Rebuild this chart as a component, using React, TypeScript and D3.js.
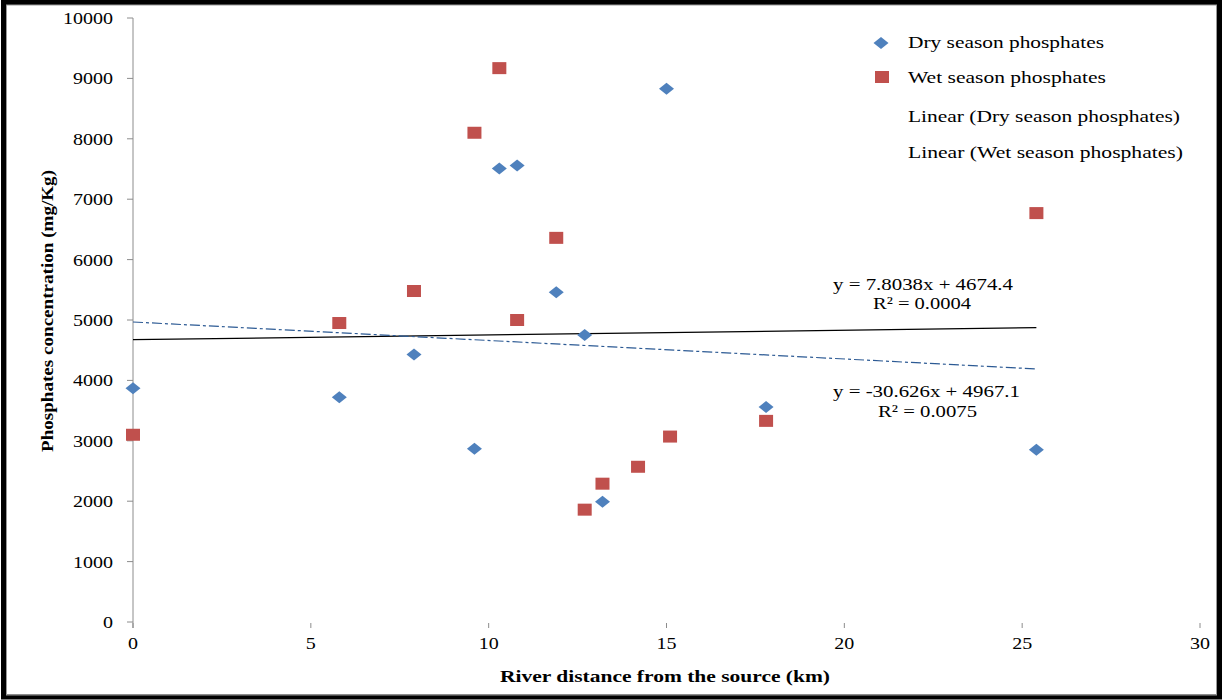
import React from "react";
import * as d3 from "d3";

const dryX = [0, 5.8, 7.9, 9.6, 10.3, 10.8, 11.9, 12.7, 13.2, 15.0, 17.8, 25.4];
const dryY = [3870, 3720, 4430, 2870, 7510, 7560, 5460, 4750, 1990, 8830, 3560, 2850];
const wetX = [0, 5.8, 7.9, 9.6, 10.3, 10.8, 11.9, 12.7, 13.2, 14.2, 15.1, 17.8, 25.4];
const wetY = [3100, 4950, 5480, 8100, 9170, 5000, 6360, 1860, 2290, 2570, 3070, 3330, 6770];
const xTicks = [0, 5, 10, 15, 20, 25, 30];
const yTicks = [0, 1000, 2000, 3000, 4000, 5000, 6000, 7000, 8000, 9000, 10000];
const dryFit = { slope: -30.626, intercept: 4967.1, r2: "0.0075" };
const wetFit = { slope: 7.8038, intercept: 4674.4, r2: "0.0004" };
const legendLabels = [
  "Dry season phosphates",
  "Wet season phosphates",
  "Linear (Dry season phosphates)",
  "Linear (Wet season phosphates)",
];
const legendWidths = [196, 198, 272, 275];

const W = 1225;
const H = 700;
const FONT = "'Liberation Serif', 'Times New Roman', serif";

export default function App() {
  const x = d3.scaleLinear().domain([0, 30]).range([133, 1200]);
  const y = d3.scaleLinear().domain([0, 10000]).range([622, 18]);
  const xMax = d3.max(dryX.concat(wetX)) as number;
  const fitPath = (f: { slope: number; intercept: number }) =>
    d3
      .line<[number, number]>()
      .x((d) => x(d[0]))
      .y((d) => y(d[1]))([
      [0, f.intercept],
      [xMax, f.intercept + f.slope * xMax],
    ]) as string;

  const diamond = (cx: number, cy: number) =>
    `M${cx},${cy - 6}L${cx + 7.5},${cy}L${cx},${cy + 6}L${cx - 7.5},${cy}Z`;

  const stretch = (w: number) => ({ textLength: w, lengthAdjust: "spacingAndGlyphs" as const });

  return (
    <svg
      width={W}
      height={H}
      style={{ position: "absolute", left: 0, top: 0, background: "#fff" }}
      fontFamily={FONT}
    >
      <rect x={0} y={0} width={W} height={H} fill="#fff" />
      {/* y axis */}
      <line x1={133} x2={133} y1={y(10000)} y2={628} stroke="#8c8c8c" strokeWidth={1} />
      {yTicks.map((t) => (
        <g key={"y" + t}>
          <line x1={127} x2={133} y1={y(t)} y2={y(t)} stroke="#8c8c8c" strokeWidth={1} />
          <text
            x={113 - String(t).length * 10}
            y={y(t) + 6}
            fontSize={17}
            fill="#000"
            {...stretch(String(t).length * 10)}
          >
            {t}
          </text>
        </g>
      ))}
      {xTicks.map((t) => (
        <g key={"x" + t}>
          <line x1={x(t)} x2={x(t)} y1={623} y2={628} stroke="#8c8c8c" strokeWidth={1} />
          <text
            x={x(t) - String(t).length * 5}
            y={649}
            fontSize={17}
            fill="#000"
            {...stretch(String(t).length * 10)}
          >
            {t}
          </text>
        </g>
      ))}
      {/* trendlines */}
      <path d={fitPath(wetFit)} stroke="#000" strokeWidth={1.2} fill="none" />
      <path
        d={fitPath(dryFit)}
        stroke="#2c5a94"
        strokeWidth={1.2}
        strokeDasharray="10,3,3,3"
        fill="none"
      />
      {/* points */}
      {dryX.map((d, i) => (
        <path key={"d" + i} d={diamond(x(d), y(dryY[i]))} fill="#4f81bd" />
      ))}
      {wetX.map((d, i) => (
        <rect
          key={"w" + i}
          x={x(d) - 7}
          y={y(wetY[i]) - 6}
          width={14}
          height={12}
          fill="#c0504d"
        />
      ))}
      {/* equations */}
      <text x={833} y={290} fontSize={17} fill="#000" {...stretch(180)}>
        {`y = ${wetFit.slope}x + ${wetFit.intercept}`}
      </text>
      <text x={873} y={309} fontSize={17} fill="#000" {...stretch(98)}>
        R² = {wetFit.r2}
      </text>
      <text x={833} y={397} fontSize={17} fill="#000" {...stretch(187)}>
        {`y = ${dryFit.slope}x + ${dryFit.intercept}`}
      </text>
      <text x={878} y={417} fontSize={17} fill="#000" {...stretch(99)}>
        R² = {dryFit.r2}
      </text>
      {/* legend */}
      <path d={diamond(881, 43)} fill="#4f81bd" />
      <rect x={875} y={71} width={14} height={12} fill="#c0504d" />
      {legendLabels.map((l, i) => (
        <text
          key={l}
          x={908}
          y={[48, 83, 122, 158][i]}
          fontSize={17}
          fill="#000"
          {...stretch(legendWidths[i])}
        >
          {l}
        </text>
      ))}
      {/* axis titles */}
      <text x={500} y={682} fontSize={17} fontWeight="bold" fill="#000" {...stretch(330)}>
        River distance from the source (km)
      </text>
      <text
        transform={`translate(53,${452}) rotate(-90)`}
        fontSize={17}
        fontWeight="bold"
        fill="#000"
        {...stretch(282)}
      >
        Phosphates concentration (mg/Kg)
      </text>
      {/* frame */}
      <rect x={3.5} y={2.5} width={W - 9} height={H - 5.5} fill="none" stroke="#000" strokeWidth={5} />
      <rect x={6.5} y={5} width={W - 15} height={H - 10} fill="none" stroke="#999" strokeWidth={1} />
    </svg>
  );
}
